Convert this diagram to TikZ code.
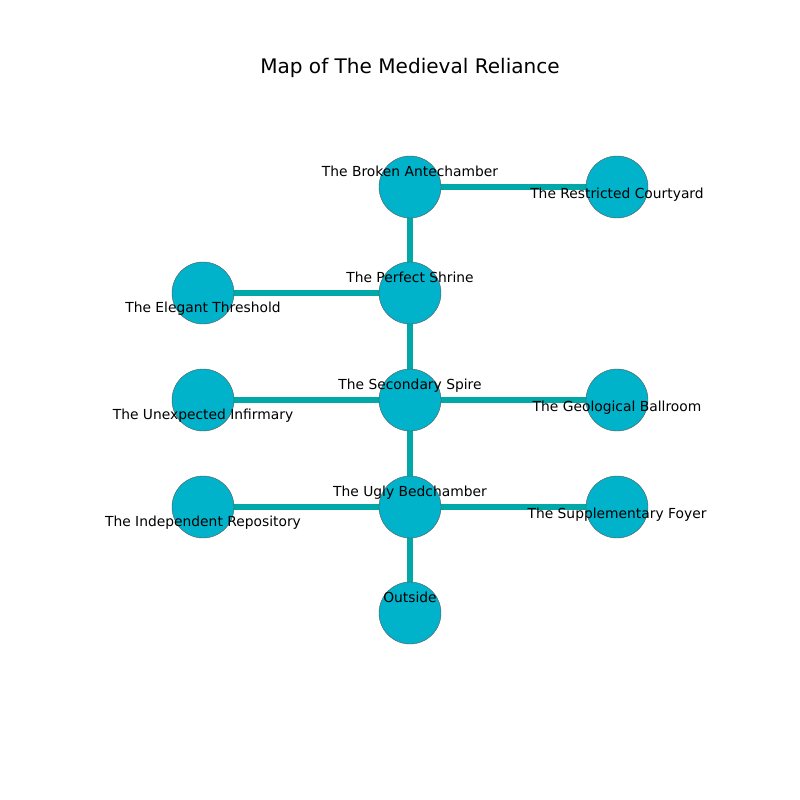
\documentclass[tikz,border=0pt]{standalone}
\usepackage{fontspec}
\setmainfont{DejaVu Sans}
\usetikzlibrary{positioning}
\definecolor{roomfill}{RGB}{0,178,202}
\definecolor{passage}{RGB}{0,168,168}

\begin{document}
\begin{tikzpicture}[
    x=0.254mm,y=-0.254mm,
    every node/.style={font=\fontsize{10}{12}\selectfont},
    room/.style={circle,draw=gray!70!black,line width=0.3pt,fill=roomfill,minimum size=15.75mm,inner sep=0pt},
    passage/.style={draw=passage,line width=4.2pt},
    tag/.style={inner sep=0pt,anchor=base}
]
\useasboundingbox (0,0) rectangle (800,800);

% Title
\node[font=\fontsize{14.5}{17}\selectfont,anchor=base] (title) at (410,73) {Map of The Medieval Reliance};

% Room coordinates (absolute positions)
\coordinate (antechamber) at (410,187);
\coordinate (courtyard)   at (617,187);
\coordinate (shrine)      at (410,293);
\coordinate (threshold)   at (203,293);
\coordinate (spire)       at (410,400);
\coordinate (infirmary)   at (203,400);
\coordinate (ballroom)    at (617,400);
\coordinate (bedchamber)  at (410,507);
\coordinate (repository)  at (203,507);
\coordinate (foyer)       at (617,507);
\coordinate (outside)     at (410,613);

% Passages
\draw[passage] (antechamber) -- (courtyard);
\draw[passage] (antechamber) -- (shrine);
\draw[passage] (shrine) -- (threshold);
\draw[passage] (shrine) -- (spire);
\draw[passage] (spire) -- (infirmary);
\draw[passage] (spire) -- (ballroom);
\draw[passage] (spire) -- (bedchamber);
\draw[passage] (bedchamber) -- (repository);
\draw[passage] (bedchamber) -- (foyer);
\draw[passage] (bedchamber) -- (outside);

% Rooms
\foreach \r in {antechamber,courtyard,shrine,threshold,spire,infirmary,ballroom,bedchamber,repository,foyer,outside}
    \node[room] (n-\r) at (\r) {};

% Room labels
\node[tag] (l-antechamber) at (410,176) {The Broken Antechamber};
\node[tag] (l-courtyard)   at (617,198) {The Restricted Courtyard};
\node[tag] (l-shrine)      at (410,282) {The Perfect Shrine};
\node[tag] (l-threshold)   at (203,312) {The Elegant Threshold};
\node[tag] (l-spire)       at (410,389) {The Secondary Spire};
\node[tag] (l-infirmary)   at (203,419) {The Unexpected Infirmary};
\node[tag] (l-ballroom)    at (617,411) {The Geological Ballroom};
\node[tag] (l-bedchamber)  at (410,496) {The Ugly Bedchamber};
\node[tag] (l-repository)  at (203,526) {The Independent Repository};
\node[tag] (l-foyer)       at (617,518) {The Supplementary Foyer};
\node[tag] (l-outside)     at (410,602) {Outside};

\end{tikzpicture}
\end{document}
